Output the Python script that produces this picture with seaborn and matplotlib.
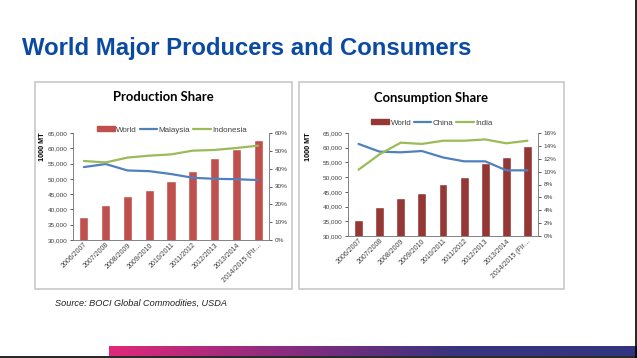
import numpy as np
import pandas as pd
import matplotlib
matplotlib.use("Agg")
import matplotlib.pyplot as plt
import seaborn as sns
from matplotlib.patches import Rectangle
from matplotlib.lines import Line2D
from matplotlib.ticker import FuncFormatter, MultipleLocator
from matplotlib.colors import LinearSegmentedColormap

# ---------------- data ----------------
seasons = ["2006/2007", "2007/2008", "2008/2009", "2009/2010", "2010/2011",
           "2011/2012", "2012/2013", "2013/2014", "2014/2015 (Fir\u2026"]

prod_world = [37500, 41500, 44500, 46500, 49300, 52500, 56700, 59700, 62800]
prod_malaysia = [40.9, 42.6, 39.0, 38.6, 37.0, 34.9, 34.3, 34.1, 33.6]
prod_indonesia = [44.3, 43.5, 46.2, 47.3, 48.0, 50.1, 50.5, 51.6, 52.9]

cons_world = [35450, 39800, 42850, 44550, 47600, 49900, 54800, 56800, 60700]
cons_china = [14.3, 13.1, 13.0, 13.2, 12.2, 11.6, 11.6, 10.2, 10.2]
cons_india = [10.3, 12.7, 14.5, 14.3, 14.8, 14.8, 15.0, 14.4, 14.8]

# ---------------- style ----------------
sns.set_theme(style="white")
plt.rcParams["font.family"] = ["Liberation Sans", "DejaVu Sans"]

W, H = 637, 358
fig = plt.figure(figsize=(W / 100, H / 100), dpi=100)
fig.patch.set_facecolor("white")


def rect(l, t, r, b):
    return [l / W, 1 - b / H, (r - l) / W, (b - t) / H]


def fx(x):
    return x / W


def fy(y):
    return 1 - y / H


RED = "#C0504D"
DARKRED = "#953735"
BLUE = "#4F81BD"
GREEN = "#9BBB59"
TXT = "#404040"

# slide title
fig.text(fx(22), fy(48), "World Major Producers and Consumers", fontsize=17.2,
         fontweight="bold", color="#0B4AA2", va="center", ha="left")
fig.text(fx(55), fy(303), "Source: BOCI Global Commodities, USDA", fontsize=6.6,
         style="italic", color="#202020", va="center", ha="left")

# chart frames
for (l, t, r, b) in [(35, 82, 292, 289), (299, 82, 564, 289)]:
    fig.patches.append(Rectangle((fx(l), fy(b)), fx(r) - fx(l), fy(t) - fy(b),
                                 transform=fig.transFigure, fill=False,
                                 edgecolor="#C8C8C8", linewidth=1.2, zorder=0))

# gradient bar at the bottom
gax = fig.add_axes(rect(109, 346, 637, 356))
cmap = LinearSegmentedColormap.from_list("g", ["#E0287A", "#8A2C7E", "#37347F", "#33357F"])
gax.imshow(np.linspace(0, 1, 256)[None, :], aspect="auto", cmap=cmap)
gax.set_axis_off()

# slide border lines
fig.add_artist(Line2D([fx(636), fx(636)], [0, 1], color="black", lw=1.2,
                      transform=fig.transFigure))
fig.add_artist(Line2D([0, 1], [fy(357), fy(357)], color="black", lw=1.2,
                      transform=fig.transFigure))


def make_chart(box, world, s1, s2, names, barcolor, ymax2, ystep2, title,
               title_xy, legend_xy, ylabel_xy):
    ax = fig.add_axes(rect(*box))
    df = pd.DataFrame({"season": seasons, "world": world})
    sns.barplot(data=df, x="season", y="world", color=barcolor, width=0.42,
                saturation=1, ax=ax, zorder=2)
    ax.set_ylim(30000, 65000)
    ax.yaxis.set_major_locator(MultipleLocator(5000))
    ax.yaxis.set_major_formatter(FuncFormatter(lambda v, p: f"{int(v):,}"))
    ax.set_xlabel("")
    ax.set_ylabel("")
    ax.tick_params(axis="y", labelsize=4.6, colors=TXT, length=2.5, width=0.6,
                   direction="out", left=True, pad=1.5)
    ax.tick_params(axis="x", labelsize=5, colors=TXT, length=0, pad=1)
    for lab in ax.get_xticklabels():
        lab.set_rotation(45)
        lab.set_ha("right")
        lab.set_rotation_mode("anchor")
    ax.spines["top"].set_visible(False)
    for s in ["left", "right", "bottom"]:
        ax.spines[s].set_color("#868686")
        ax.spines[s].set_linewidth(0.7)

    ax2 = ax.twinx()
    ldf = pd.DataFrame({"season": seasons, names[1]: s1, names[2]: s2})
    sns.lineplot(data=ldf, x="season", y=names[1], color=BLUE, lw=1.6, ax=ax2,
                 sort=False)
    sns.lineplot(data=ldf, x="season", y=names[2], color=GREEN, lw=1.6, ax=ax2,
                 sort=False)
    ax2.set_ylim(0, ymax2)
    ax2.yaxis.set_major_locator(MultipleLocator(ystep2))
    ax2.yaxis.set_major_formatter(FuncFormatter(lambda v, p: f"{int(round(v))}%"))
    ax2.set_ylabel("")
    ax2.set_xlabel("")
    ax2.tick_params(axis="y", labelsize=4.6, colors=TXT, length=2.5, width=0.6,
                    direction="out", right=True, pad=1.5)
    ax2.spines["top"].set_visible(False)
    for s in ["left", "right", "bottom"]:
        ax2.spines[s].set_color("#868686")
        ax2.spines[s].set_linewidth(0.7)
    ax.set_xlim(-0.5, len(seasons) - 0.5)
    ax2.set_xlim(-0.5, len(seasons) - 0.5)

    fig.text(fx(title_xy[0]), fy(title_xy[1]), title, fontsize=9.4,
             fontweight="bold", ha="center", va="center", color="black",
             family=["Lato", "DejaVu Sans"])
    handles = [Rectangle((0, 0), 1, 1, color=barcolor),
               Line2D([0], [0], color=BLUE, lw=1.6),
               Line2D([0], [0], color=GREEN, lw=1.6)]
    fig.legend(handles, names, loc="center", ncol=3,
               bbox_to_anchor=(fx(legend_xy[0]), fy(legend_xy[1])),
               frameon=False, fontsize=5.8, handlelength=2.2, handleheight=0.6,
               columnspacing=0.3, handletextpad=0.2, labelcolor=TXT)
    fig.text(fx(ylabel_xy[0]), fy(ylabel_xy[1]), "1000 MT",
             rotation=90, fontsize=5.2, fontweight="bold", ha="center",
             va="center", color="black")
    return ax, ax2


make_chart((73, 133, 269, 240), prod_world, prod_malaysia, prod_indonesia,
           ["World", "Malaysia", "Indonesia"], RED, 60, 10,
           "Production Share", (163, 97), (172, 130), (43, 147))
make_chart((348, 133, 538, 236), cons_world, cons_china, cons_india,
           ["World", "China", "India"], DARKRED, 16, 2,
           "Consumption Share", (431, 98), (432, 123), (309, 147))

fig.savefig("out.png", dpi=100, facecolor="white")
